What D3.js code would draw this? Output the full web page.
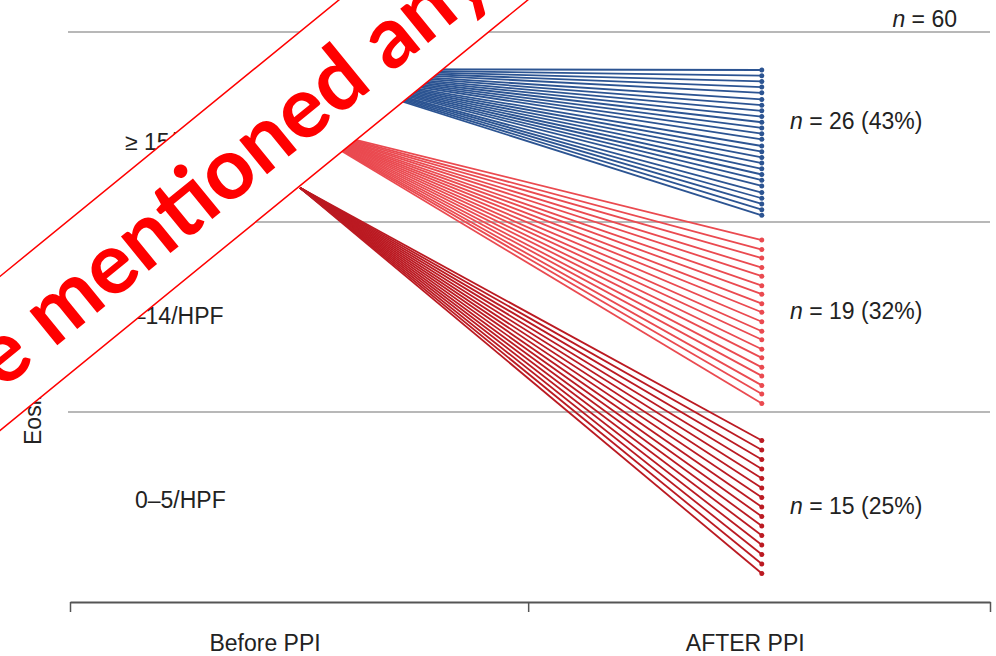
<!DOCTYPE html>
<html>
<head>
<meta charset="utf-8">
<script src="https://cdn.jsdelivr.net/npm/d3@7"></script>
<style>
  body { margin: 0; background: #fff; }
  text { font-family: "Liberation Sans", Arial, Helvetica, sans-serif; fill: #222; }
</style>
</head>
<body>
<svg id="chart" width="996" height="656"></svg>
<script>
// ---- data ----
const timepoints = ["Before PPI", "AFTER PPI"];
const bandLabels = ["\u2265 15/HPF", "6\u201314/HPF", "0\u20135/HPF"];
const bandEdges = [60, 40, 20];          // grid lines between eosinophil bands (patient-rank units)
const totalN = 60;
const groupCounts = [26, 19, 15];
const groupPercents = [43, 32, 25];
const groupStart = [56.1, 50.1, 43.6];  // shared pre-PPI position of each outcome group
const blueEnd = [56.0, 55.4, 54.8, 54.2, 53.6, 52.9, 52.3, 51.7, 51.1, 50.5, 49.9, 49.3, 48.7,
                 48.0, 47.4, 46.8, 46.2, 45.6, 45.0, 44.4, 43.8, 43.1, 42.5, 41.9, 41.3, 40.7];
const lightRedEnd = [38.1, 37.1, 36.2, 35.2, 34.3, 33.3, 32.4, 31.4, 30.5, 29.5,
                     28.5, 27.6, 26.6, 25.7, 24.7, 23.8, 22.8, 21.9, 20.9];
const darkRedEnd = [17.0, 16.0, 15.0, 14.0, 13.0, 12.0, 11.0, 10.0, 9.0, 8.0, 7.0, 6.0, 5.0, 4.0, 3.0];
const groupColors = ["#2c5492", "#ea4a50", "#bb1a22"];

const groups = [blueEnd, lightRedEnd, darkRedEnd].map((ends, i) => ({
  start: groupStart[i], ends, color: groupColors[i],
  label: `n = ${groupCounts[i]} (${groupPercents[i]}%)`
}));

// ---- layout ----
const svg = d3.select("#chart");
const x = d3.scaleLinear().domain([0, 1]).range([70, 990]);
const y = d3.scaleLinear().domain([0, 60]).range([602, 32]);
const tBefore = 0.25, tAfter = 0.752;        // where the patient lines start and end
const labelPos = [0.212, 0.734];             // centres of the time-point captions
const fontSize = "23px";

// band separators
svg.append("g").selectAll("line").data(bandEdges).join("line")
  .attr("x1", 68).attr("x2", x(1))
  .attr("y1", d => y(d)).attr("y2", d => y(d))
  .attr("stroke", "#b8b8b8").attr("stroke-width", 2);

// bottom axis
const axis = svg.append("g").attr("transform", `translate(0,${y(0)})`)
  .call(d3.axisBottom(x).tickValues([0, 0.498, 1]).tickFormat("").tickSize(10).tickSizeOuter(0));
axis.select(".domain").attr("stroke", "#555").attr("stroke-width", 2);
axis.selectAll(".tick line").attr("stroke", "#555").attr("stroke-width", 1.5);

svg.append("g").selectAll("text").data(timepoints).join("text")
  .attr("x", (d, i) => x(labelPos[i])).attr("y", 651)
  .attr("text-anchor", "middle").style("font-size", fontSize).text(d => d);

// band labels
const bandLabelX = [125, 120, 135];
const bandLabelY = [150, 324, 508];
svg.append("g").selectAll("text").data(bandLabels).join("text")
  .attr("x", (d, i) => bandLabelX[i]).attr("y", (d, i) => bandLabelY[i])
  .style("font-size", fontSize).text(d => d);

// y-axis title
svg.append("text").attr("transform", "translate(41,445) rotate(-90)")
  .style("font-size", fontSize).text("Eosinophils");

// patient lines
const line = d3.line().x(d => x(d[0])).y(d => y(d[1]));
groups.forEach(g => {
  const gg = svg.append("g");
  gg.selectAll("path").data(g.ends).join("path")
    .attr("d", e => line([[tBefore, g.start], [tAfter, e]]))
    .attr("fill", "none").attr("stroke", g.color).attr("stroke-width", 1.8);
  gg.selectAll("circle").data(g.ends).join("circle")
    .attr("cx", x(tAfter)).attr("cy", e => y(e)).attr("r", 2.5)
    .attr("fill", g.color);
});

// group counts
const nLabelY = [129, 319, 514];
const nText = svg.append("g").selectAll("text").data(groups).join("text")
  .attr("x", 790).attr("y", (d, i) => nLabelY[i]).style("font-size", fontSize);
nText.append("tspan").style("font-style", "italic").text("n");
nText.append("tspan").text(d => " = " + d.label.slice(4));

const total = svg.append("text").attr("x", 957).attr("y", 27)
  .attr("text-anchor", "end").style("font-size", fontSize);
total.append("tspan").style("font-style", "italic").text("n");
total.append("tspan").text(" = " + totalN);

// diagonal stamp across the upper left
const stamp = svg.append("g").attr("transform", "translate(200,190.3) rotate(-39.2)");
stamp.append("rect").attr("x", -800).attr("y", -59.7).attr("width", 1600).attr("height", 119.4)
  .attr("fill", "#fff").attr("stroke", "#ff0000").attr("stroke-width", 1.5);
stamp.append("text").attr("x", 14).attr("y", 30).attr("text-anchor", "middle")
  .style("font-family", "Lato, 'Open Sans', sans-serif").style("font-weight", "bold")
  .style("font-size", "86px").style("fill", "#ff0000")
  .text("be mentioned any");
</script>
</body>
</html>
